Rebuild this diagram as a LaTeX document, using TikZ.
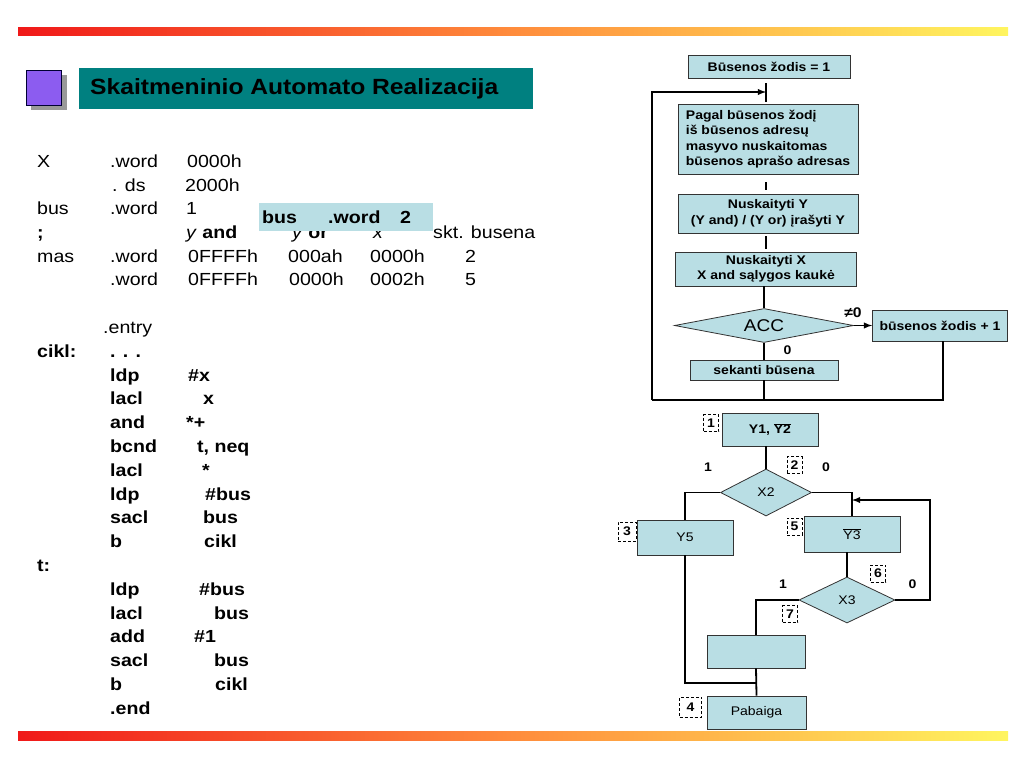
\documentclass[tikz,border=0pt]{standalone}
\usepackage{fontspec}
\setmainfont{Liberation Sans}[FakeStretch=1.12]
\usetikzlibrary{shapes.geometric}

\definecolor{boxblue}{RGB}{185,222,228}
\definecolor{titleteal}{RGB}{0,128,128}
\definecolor{sqpurple}{RGB}{140,92,240}
\definecolor{barred}{RGB}{240,25,25}
\definecolor{barorange}{RGB}{255,140,60}
\definecolor{baryellow}{RGB}{255,245,95}

\begin{document}
\begin{tikzpicture}[x=1pt,y=-1pt,>=latex]
	% one unit is one pixel of the slide, y runs downwards
	\tikzset{stepbox/.style={draw=black!80, line width=0.8pt, fill=boxblue, inner sep=0pt, font=\fontsize{12.5}{15.5}\selectfont\bfseries},
		plainbox/.style={stepbox, font=\fontsize{12.5}{15}\selectfont},
		decision/.style={diamond, aspect=2, draw=black!80, line width=0.8pt, fill=boxblue, inner sep=0pt, font=\fontsize{12.5}{15}\selectfont},
		numbox/.style={draw, dash pattern=on 3pt off 2pt, line width=0.9pt, inner sep=0pt, minimum width=15pt, minimum height=17pt, font=\fontsize{12.5}{15}\selectfont\bfseries},
		lbl/.style={inner sep=0pt, font=\fontsize{12.5}{15}\selectfont\bfseries},
		link/.style={line width=1.8pt},
		code/.style={inner sep=0pt, anchor=base west, font=\fontsize{17.5}{21}\selectfont},
		codeb/.style={code, font=\fontsize{17.5}{21}\selectfont\bfseries},
	}
	\useasboundingbox (0,0) rectangle (1024,768);
	% colour bars at top and bottom
	\shade[left color=barred, right color=baryellow, middle color=barorange] (18,28) rectangle (1008,36);
	\shade[left color=barred, right color=baryellow, middle color=barorange] (18,731) rectangle (1008,740);
	% title with the little square
	\fill[black!40] (31,75) rectangle (67,110);
	\draw[fill=sqpurple, draw=black!80!blue, line width=0.8pt] (26,70) rectangle (61,105);
	\node[fill=titleteal, inner sep=0pt, anchor=north west, minimum width=454pt, minimum height=41pt] (title) at (79,68) {};
	\node[anchor=west, inner sep=0pt, font=\fontsize{22}{26}\selectfont\bfseries] (titletext) at (90,89) {Skaitmeninio Automato Realizacija};
	% program text, plain part
	\foreach \px/\py/\txt in {37/167/X, 110/167/.word, 187/167/0000h,
			112/191/. ds, 185/191/2000h,
			37/214/bus, 110/214/.word, 186/214/1,
			186/238/{\textit{y} \textbf{and}}, 292/238/{\textit{y} \textbf{or}}, 373/238/\textit{x}, 433/238/skt. busena,
			37/262/mas, 110/262/.word, 188/262/0FFFFh, 288/262/000ah, 370/262/0000h, 465/262/2,
			110/285/.word, 188/285/0FFFFh, 289/285/0000h, 370/285/0002h, 465/285/5,
			103/333/.entry}
		\node[code] (c-\px-\py) at (\px,\py) {\txt};
	% program text, bold part
	\foreach \px/\py/\txt in {37/238/;,
			37/357/cikl:, 110/357/. . .,
			110/381/ldp, 188/381/\#x,
			110/404/lacl, 203/404/x,
			110/428/and, 186/428/*+,
			110/452/bcnd, 197/452/{t, neq},
			110/476/lacl, 202/476/*,
			110/500/ldp, 205/500/\#bus,
			110/523/sacl, 203/523/bus,
			110/547/b, 204/547/cikl,
			37/571/t:,
			110/595/ldp, 199/595/\#bus,
			110/619/lacl, 214/619/bus,
			110/642/add, 194/642/\#1,
			110/666/sacl, 214/666/bus,
			110/690/b, 215/690/cikl,
			110/714/.end}
		\node[codeb] (b-\px-\py) at (\px,\py) {\txt};
	% the highlighted line lies over the comment row
	\node[fill=boxblue, inner sep=0pt, anchor=north west, minimum width=174pt, minimum height=28pt] (busbox) at (259,203) {};
	\node[codeb] (busname) at (262,223) {bus};
	\node[codeb] (busword) at (328,223) {.word};
	\node[codeb] (busval) at (400,223) {2};

	% upper flow chart
	\node[stepbox, minimum width=162pt, minimum height=23pt] (start) at (769,66.5) {Būsenos žodis = 1};
	\node[stepbox, minimum width=180pt, minimum height=70pt, align=left] (pagal) at (768,139) {Pagal būsenos žodį\\iš būsenos adresų\\masyvo nuskaitomas\\būsenos aprašo adresas};
	\node[stepbox, minimum width=180pt, minimum height=39pt, align=center] (nuskY) at (768,213.5) {Nuskaityti Y\\(Y and) / (Y or) įrašyti Y};
	\node[stepbox, minimum width=181pt, minimum height=34pt, align=center] (nuskX) at (766,269) {Nuskaityti X\\X and sąlygos kaukė};
	\node[decision, aspect=5, minimum width=179pt, minimum height=34pt, font=\fontsize{17}{20}\selectfont] (acc) at (764,325.5) {ACC};
	\node[stepbox, minimum width=135pt, minimum height=31pt] (plus1) at (940,325.5) {būsenos žodis + 1};
	\node[stepbox, minimum width=148pt, minimum height=20pt] (sekanti) at (764,370) {sekanti būsena};
	\node[lbl, font=\fontsize{14}{16}\selectfont\bfseries] (ne0) at (853,313) {≠0};
	\node[lbl] (zero) at (787.5,350.5) {0};
	\coordinate (entry) at (766,92);
	\coordinate (loopbl) at (652,400);
	\coordinate (loopbr) at (943,400);
	% connectors of the upper chart
	\draw[link, shorten <=5pt, shorten >=2pt] (start.south -| entry) -- (pagal.north -| entry);
	\draw[link, shorten <=8pt, shorten >=4pt] (pagal.south -| entry) -- (nuskY.north -| entry);
	\draw[link, shorten <=3pt, shorten >=3pt] (nuskY.south -| nuskX) -- (nuskX.south |- nuskX.north);
	\draw[link] (nuskX.south -| acc) -- (acc.north);
	\draw[link,->] (acc.east) -- (plus1.west);
	\draw[link] (acc.south) -- (acc.south |- sekanti.north);
	\draw[link] (sekanti.south) -- (sekanti.south |- loopbl);
	\draw[link] (plus1.south -| loopbr) -- (loopbr) -- (loopbl);
	\draw[link,->] (loopbl) |- (entry);

	% lower flow chart
	\node[stepbox, minimum width=96pt, minimum height=33pt] (y1) at (770,429.5) {Y1, $\overline{\mbox{\bfseries Y2}}$};
	\node[decision, minimum width=91pt, minimum height=47pt] (x2) at (766,492.5) {X2};
	\node[plainbox, minimum width=96pt, minimum height=35pt] (y5) at (685,537.5) {Y5};
	\node[plainbox, minimum width=96pt, minimum height=36pt] (y3) at (852,534) {$\overline{\mbox{Y3}}$};
	\node[decision, minimum width=96pt, minimum height=46pt] (x3) at (847,600) {X3};
	\node[plainbox, minimum width=98pt, minimum height=33pt] (blank) at (756,651.5) {};
	\node[plainbox, minimum width=99pt, minimum height=33pt] (pabaiga) at (756.5,712.5) {Pabaiga};
	% dashed state numbers
	\node[numbox] (n1) at (711,423) {1};
	\node[numbox] (n2) at (794.5,465) {2};
	\node[numbox, minimum width=18pt, minimum height=19pt] (n3) at (627,531.5) {3};
	\node[numbox, minimum width=22pt, minimum height=20pt] (n4) at (690.5,707) {4};
	\node[numbox] (n5) at (794.5,526.5) {5};
	\node[numbox] (n6) at (878,573.5) {6};
	\node[numbox] (n7) at (790,614) {7};
	% branch labels
	\node[lbl] (x2one) at (708,467) {1};
	\node[lbl] (x2zero) at (826,467) {0};
	\node[lbl] (x3one) at (783,584) {1};
	\node[lbl] (x3zero) at (912.5,584) {0};
	\coordinate (back) at (930,500);
	\coordinate (merge) at (756,683);
	% connectors of the lower chart
	\draw[link] (y1.south -| x2) -- (x2.north);
	\draw[link] (x2.west) -| (y5.north);
	\draw[link] (x2.east) -| (y3.north);
	\draw[link] (y3.south -| x3) -- (x3.north);
	\draw[link,->] (x3.east) -| (back) -- (back -| y3.north);
	\draw[link] (x3.west) -| (blank.north);
	\draw[link] (blank.south) -- (pabaiga.north);
	\draw[link] (y5.south) |- (merge);
\end{tikzpicture}
\end{document}
